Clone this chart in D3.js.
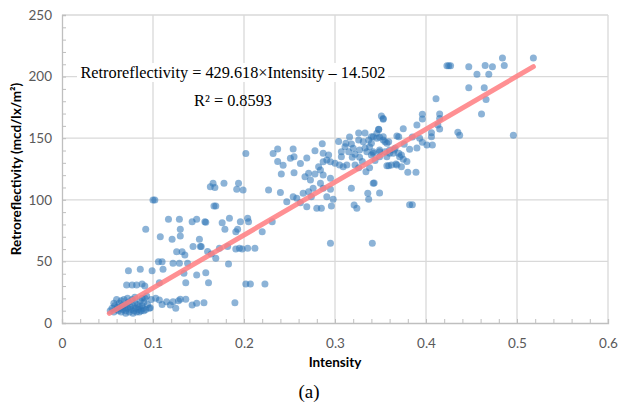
<!DOCTYPE html>
<html>
<head>
<meta charset="utf-8">
<script src="https://cdn.jsdelivr.net/npm/d3@7"></script>
<style>
  body { margin: 0; background: #fff; }
  svg { display: block; }
</style>
</head>
<body>
<div id="chart"></div>
<script>
// [intensity, retroreflectivity]
var points = [
  // dense low-left cluster
  [0.053,10],[0.055,12],[0.057,9],[0.058,14],[0.060,11],[0.061,13],[0.062,10],[0.063,16],[0.064,12],[0.065,9],
  [0.066,14],[0.067,11],[0.068,19],[0.069,13],[0.070,10],[0.071,15],[0.072,12],[0.073,17],[0.074,9],[0.075,13],
  [0.076,11],[0.077,19],[0.078,14],[0.079,10],[0.080,16],[0.081,12],[0.082,9],[0.083,15],[0.084,11],[0.085,13],
  [0.086,18],[0.087,10],[0.088,14],[0.089,12],[0.090,17],[0.092,11],[0.094,15],[0.096,12],[0.098,19],[0.072,20],
  [0.065,18],[0.060,19],[0.080,21],[0.070,8],[0.085,9],[0.090,10],[0.078,8],[0.057,16],[0.088,20],[0.093,22],
  [0.103,20],[0.107,18.7],[0.115,17.3],[0.119,14.6],[0.122,17.3],[0.128,18.1],[0.130,19.2],[0.136,19.2],[0.143,14.6],
  [0.148,16],[0.156,16.5],[0.110,15],[0.125,12],[0.097,12.4],[0.091,20],[0.190,16.5],
  // left, 30 - 100
  [0.071,30.8],[0.077,30.8],[0.082,30.8],[0.088,31.6],[0.091,30],[0.107,32.7],[0.136,32.7],[0.161,32.7],
  [0.202,31.7],[0.207,31.7],[0.223,31.7],
  [0.073,42.5],[0.086,43.6],[0.099,42.5],[0.111,43.6],[0.134,40.3],[0.148,39],[0.158,40.8],
  [0.106,49.8],[0.110,49.8],[0.122,48.4],[0.129,48.4],[0.138,48.4],[0.183,47.9],
  [0.126,57.9],[0.132,57.9],[0.135,55.2],[0.144,62],[0.152,62],[0.151,68],[0.121,68],[0.108,70],[0.130,70.6],
  [0.153,62],[0.160,58],[0.164,56],[0.169,52.5],[0.173,60.6],[0.182,62],[0.191,60],[0.195,60.6],[0.198,60],
  [0.204,60.6],[0.212,60.6],
  [0.092,76],[0.130,76],[0.117,84.2],[0.129,84.2],[0.143,82.2],[0.148,84.2],[0.158,81.7],
  [0.176,81.4],[0.157,82.2],[0.179,76],[0.184,85],[0.191,74],[0.193,76],[0.196,82.2],[0.204,85],[0.205,82.2],
  [0.220,74],[0.231,82.2],
  [0.100,99.8],[0.102,99.8],[0.167,95],[0.169,95],
  // middle, 100 - 145
  [0.166,113.4],[0.163,110.6],[0.168,110],[0.178,113.4],[0.194,113.4],[0.192,108.5],[0.199,108],
  [0.202,137.5],[0.232,137.5],[0.237,141.2],[0.237,131],[0.243,128],[0.251,133.7],[0.255,135],[0.254,141.2],
  [0.262,129.5],[0.269,134],[0.241,121],[0.255,122],[0.227,108],[0.240,106],
  [0.278,139.9],[0.286,145.5],[0.304,147.3],[0.312,145.9],[0.318,145.3],[0.326,154.3],[0.333,154.3],[0.340,151.2],
  [0.348,157.2],[0.346,154],[0.351,168],[0.353,165.3],
  [0.326,148.5],[0.331,147.2],[0.337,148.5],[0.340,145.9],[0.349,150.7],[0.353,148.5],[0.359,147.2],[0.370,151.2],
  [0.311,143.1],[0.320,141.8],[0.327,140.4],[0.335,139],[0.342,137.7],[0.349,140.4],[0.360,140.4],[0.366,141.8],
  [0.364,137.7],[0.370,137.7],
  [0.307,139],[0.315,139],[0.307,135],[0.319,134.5],[0.327,134.5],[0.349,135],[0.357,135],[0.359,127.7],[0.368,128.2],
  [0.316,151],[0.322,137],[0.330,131],[0.333,142],[0.344,132],[0.338,126],
  [0.287,137.7],[0.293,136.4],[0.291,132.3],[0.287,130.9],[0.282,126.9],[0.284,124.2],[0.295,130.9],[0.300,129.6],
  [0.305,128.2],[0.309,126.9],[0.313,128.2],[0.322,128.2],[0.326,126.1],
  [0.287,120.1],[0.295,117.4],[0.267,118.8],[0.271,121.5],[0.278,120.9],
  [0.273,116],[0.284,113.4],[0.287,109.3],[0.295,108.5],[0.276,109.3],[0.271,106.6],[0.265,105.3],[0.274,102.5],
  [0.254,102.5],[0.258,101.2],[0.247,98.5],[0.262,97.6],[0.269,94.4],[0.280,93.1],[0.285,93.1],[0.291,102.5],
  [0.298,100.4],[0.296,95],
  [0.318,109.3],[0.334,122.8],[0.342,113.4],[0.336,105.3],[0.337,100.4],[0.349,105.5],[0.321,95.8],[0.324,93.1],
  [0.295,64.7],[0.341,64.7],
  // upper right
  [0.423,208.8],[0.425,208.8],[0.427,208.8],[0.447,208],[0.465,209],[0.473,208],[0.484,215],[0.486,209],[0.518,215],
  [0.456,202],[0.469,202],[0.447,191],[0.464,191],[0.466,181.5],[0.461,169.6],[0.415,169.6],[0.415,157.5],
  [0.435,154.8],[0.437,152.3],[0.496,152.3],[0.411,182],[0.396,169.4],[0.396,165.6],[0.413,160.7],[0.390,160.7],
  [0.375,157.7],[0.406,154.5],[0.406,151.2],[0.385,151],[0.393,149.9],[0.396,146.7],[0.401,144.5],[0.407,144.5],
  [0.382,141],[0.368,151.8],[0.353,166],[0.348,157],[0.353,151.2],[0.346,150],[0.357,145.9],[0.338,143],
  [0.342,139],[0.349,139],[0.355,139],[0.360,137.7],[0.365,140.4],[0.373,136.4],[0.375,132.9],[0.357,127.7],
  [0.362,128.2],[0.367,129],[0.373,126.9],[0.380,122.3],[0.389,122.3],[0.343,113.6],[0.382,96],[0.385,96],
  [0.342,151.2],[0.355,147.2],[0.379,131],[0.371,135],[0.340,136.4],[0.415,166],[0.390,142],[0.376,145]
];

var slope = 429.618, intercept = -14.502;
var fitRange = [0.052, 0.518];
var xTicks = [0, 0.1, 0.2, 0.3, 0.4, 0.5, 0.6];
var yTicks = [0, 50, 100, 150, 200, 250];

var W = 618, H = 408;
var margin = {top: 15, right: 10, bottom: 85, left: 62};

var svg = d3.select("#chart").append("svg")
  .attr("width", W).attr("height", H);

var x = d3.scaleLinear().domain([0, 0.6]).range([margin.left, 608]);
var y = d3.scaleLinear().domain([0, 250]).range([323, margin.top]);

// gridlines
svg.append("g")
  .selectAll("line.hg").data(yTicks.slice(1)).enter().append("line")
  .attr("x1", x(0)).attr("x2", x(0.6))
  .attr("y1", d => y(d)).attr("y2", d => y(d))
  .style("stroke", "#d9d9d9").style("stroke-width", 1.3);
svg.append("g")
  .selectAll("line.vg").data(xTicks.slice(1)).enter().append("line")
  .attr("x1", d => x(d)).attr("x2", d => x(d))
  .attr("y1", y(0)).attr("y2", y(250))
  .style("stroke", "#d9d9d9").style("stroke-width", 1.3);

// axes with minor ticks pointing inward
var yMinor = d3.axisLeft(y).tickValues(d3.range(0, 251, 10)).tickSize(-4).tickFormat("");
var xMinor = d3.axisBottom(x).tickValues(d3.range(0, 0.601, 0.02)).tickSize(-4).tickFormat("");
var gy = svg.append("g").attr("transform", "translate(" + x(0) + ",0)").call(yMinor);
var gx = svg.append("g").attr("transform", "translate(0," + y(0) + ")").call(xMinor);
[gy, gx].forEach(function(g){
  g.select(".domain").style("stroke", "#bfbfbf").style("stroke-width", 1.3);
  g.selectAll(".tick line").style("stroke", "#bfbfbf");
});

// tick labels
var yl = d3.axisLeft(y).tickValues(yTicks).tickSize(0).tickPadding(10);
var xl = d3.axisBottom(x).tickValues(xTicks).tickSize(0).tickPadding(15).tickFormat(d3.format("~g"));
var gyl = svg.append("g").attr("transform", "translate(" + x(0) + ",0)").call(yl);
var gxl = svg.append("g").attr("transform", "translate(0," + y(0) + ")").call(xl);
[gyl, gxl].forEach(function(g){
  g.select(".domain").remove();
  g.selectAll("text").style("font-family", "Lato, 'Open Sans', sans-serif")
    .style("font-size", "13.5px").style("fill", "#595959");
});

// points
svg.append("g")
  .selectAll("circle").data(points).enter().append("circle")
  .attr("cx", d => x(d[0]))
  .attr("cy", d => y(d[1]))
  .attr("r", 3.5)
  .style("fill", "#2e75b6")
  .style("fill-opacity", 0.55);

// fitted line
svg.append("line")
  .attr("x1", x(fitRange[0])).attr("y1", y(slope * fitRange[0] + intercept))
  .attr("x2", x(fitRange[1])).attr("y2", y(slope * fitRange[1] + intercept))
  .style("stroke", "#ff7c80")
  .style("stroke-opacity", 0.85)
  .style("stroke-width", 5)
  .style("stroke-linecap", "round");

// equation
var eq = svg.append("g").style("font-family", "'Liberation Serif', 'Times New Roman', serif")
  .style("font-size", "16.3px").style("fill", "#000");
eq.append("rect").attr("x", 77).attr("y", 63).attr("width", 311).attr("height", 19).style("fill", "#fff");
eq.append("text").attr("x", 233).attr("y", 78).attr("text-anchor", "middle")
  .text("Retroreflectivity = 429.618×Intensity – 14.502");
eq.append("text").attr("x", 233).attr("y", 106).attr("text-anchor", "middle")
  .text("R² = 0.8593");

// axis titles
svg.append("text")
  .attr("transform", "translate(21," + ((y(0) + y(250)) / 2) + ") rotate(-90)")
  .attr("text-anchor", "middle")
  .style("font-family", "Lato, 'Open Sans', sans-serif")
  .style("font-weight", "bold").style("font-size", "13.5px")
  .text("Retroreflectivity (mcd/lx/m²)");
svg.append("text")
  .attr("x", (x(0) + x(0.6)) / 2).attr("y", 367)
  .attr("text-anchor", "middle")
  .style("font-family", "Lato, 'Open Sans', sans-serif")
  .style("font-weight", "bold").style("font-size", "13.5px")
  .text("Intensity");
svg.append("text")
  .attr("x", 309).attr("y", 398)
  .attr("text-anchor", "middle")
  .style("font-family", "'Liberation Serif', 'Times New Roman', serif")
  .style("font-size", "19px")
  .text("(a)");
</script>
</body>
</html>
